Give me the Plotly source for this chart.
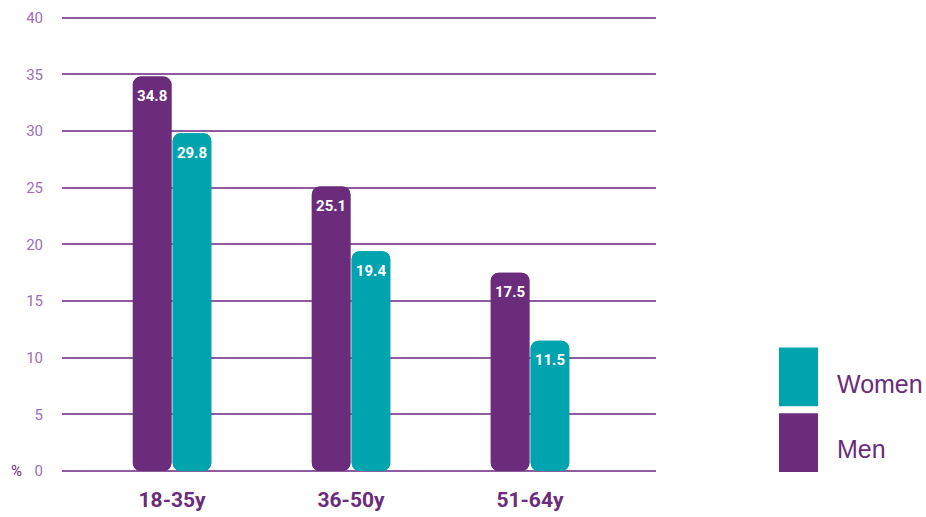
import plotly.graph_objects as go

categories = ["18-35y", "36-50y", "51-64y"]
men = [34.8, 25.1, 17.5]
women = [29.8, 19.4, 11.5]
y_ticks = [0, 5, 10, 15, 20, 25, 30, 35, 40]

MEN_C = "#6b2c7b"
WOMEN_C = "#00a4ae"
GRID_C = "#8e5c9e"
TICK_C = "#9d6fb3"

fig = go.Figure()

def add_series(name, vals, color):
    # upper part: rounded top
    fig.add_trace(go.Bar(
        x=categories, y=vals, base=0, name=name, offsetgroup=name,
        marker=dict(color=color, line=dict(width=0)),
        showlegend=False, hoverinfo="skip"))
    # lower part: rounded bottom
    fig.add_trace(go.Bar(
        x=categories, y=[-v for v in vals], base=vals, name=name, offsetgroup=name,
        marker=dict(color=color, line=dict(width=0)),
        showlegend=False, hoverinfo="skip"))

def add_labels(name, vals):
    fig.add_trace(go.Scatter(
        x=categories, y=vals, mode="markers+text", offsetgroup=name,
        text=[f"{v:.1f}" for v in vals], textposition="bottom center",
        marker=dict(size=20, color="rgba(0,0,0,0)"),
        textfont=dict(color="white", size=15, family="Roboto", weight="bold"),
        showlegend=False, hoverinfo="skip"))

add_series("Men", men, MEN_C)
add_series("Women", women, WOMEN_C)
add_labels("Men", men)
add_labels("Women", women)

fig.update_layout(
    width=926, height=517,
    margin=dict(l=62, r=270, t=12, b=46),
    paper_bgcolor="white", plot_bgcolor="white",
    barmode="group", bargap=0.555, bargroupgap=0.03,
    scattermode="group", scattergap=0.555,
    barcornerradius=8,
    xaxis=dict(type="category", range=[-0.615, 2.704], showgrid=False,
               showline=False, ticks="", ticklabelstandoff=14, automargin=False,
               tickfont=dict(family="Roboto", size=21, color=MEN_C, weight="bold")),
    yaxis=dict(range=[0, 40.5], tickvals=y_ticks, showgrid=True,
               gridcolor=GRID_C, gridwidth=1.5, zeroline=True,
               zerolinecolor=GRID_C, zerolinewidth=1.5, showline=False,
               ticks="", ticklabelstandoff=18, automargin=False,
               tickfont=dict(family="Roboto", size=15, color=TICK_C)),
    showlegend=False,
)

fig.add_annotation(text="%", xref="paper", yref="y", x=-0.077, y=0,
                   showarrow=False, font=dict(family="Roboto", size=15, color=MEN_C),
                   xanchor="center", yanchor="middle")

# legend drawn manually
legend = [("Women", WOMEN_C, 0.141, 0.269), ("Men", MEN_C, -0.002, 0.126)]
for name, color, y0, y1 in legend:
    fig.add_shape(type="rect", xref="paper", yref="paper",
                  x0=1.207, x1=1.2727, y0=y0, y1=y1,
                  fillcolor=color, line=dict(width=0))
    fig.add_annotation(text=name, xref="paper", yref="paper",
                       x=1.302, y=(y0 + y1) / 2 - 0.015, xanchor="left", yanchor="middle",
                       showarrow=False,
                       font=dict(family="Liberation Sans", size=25, color=MEN_C))

fig.write_html("out.html")
